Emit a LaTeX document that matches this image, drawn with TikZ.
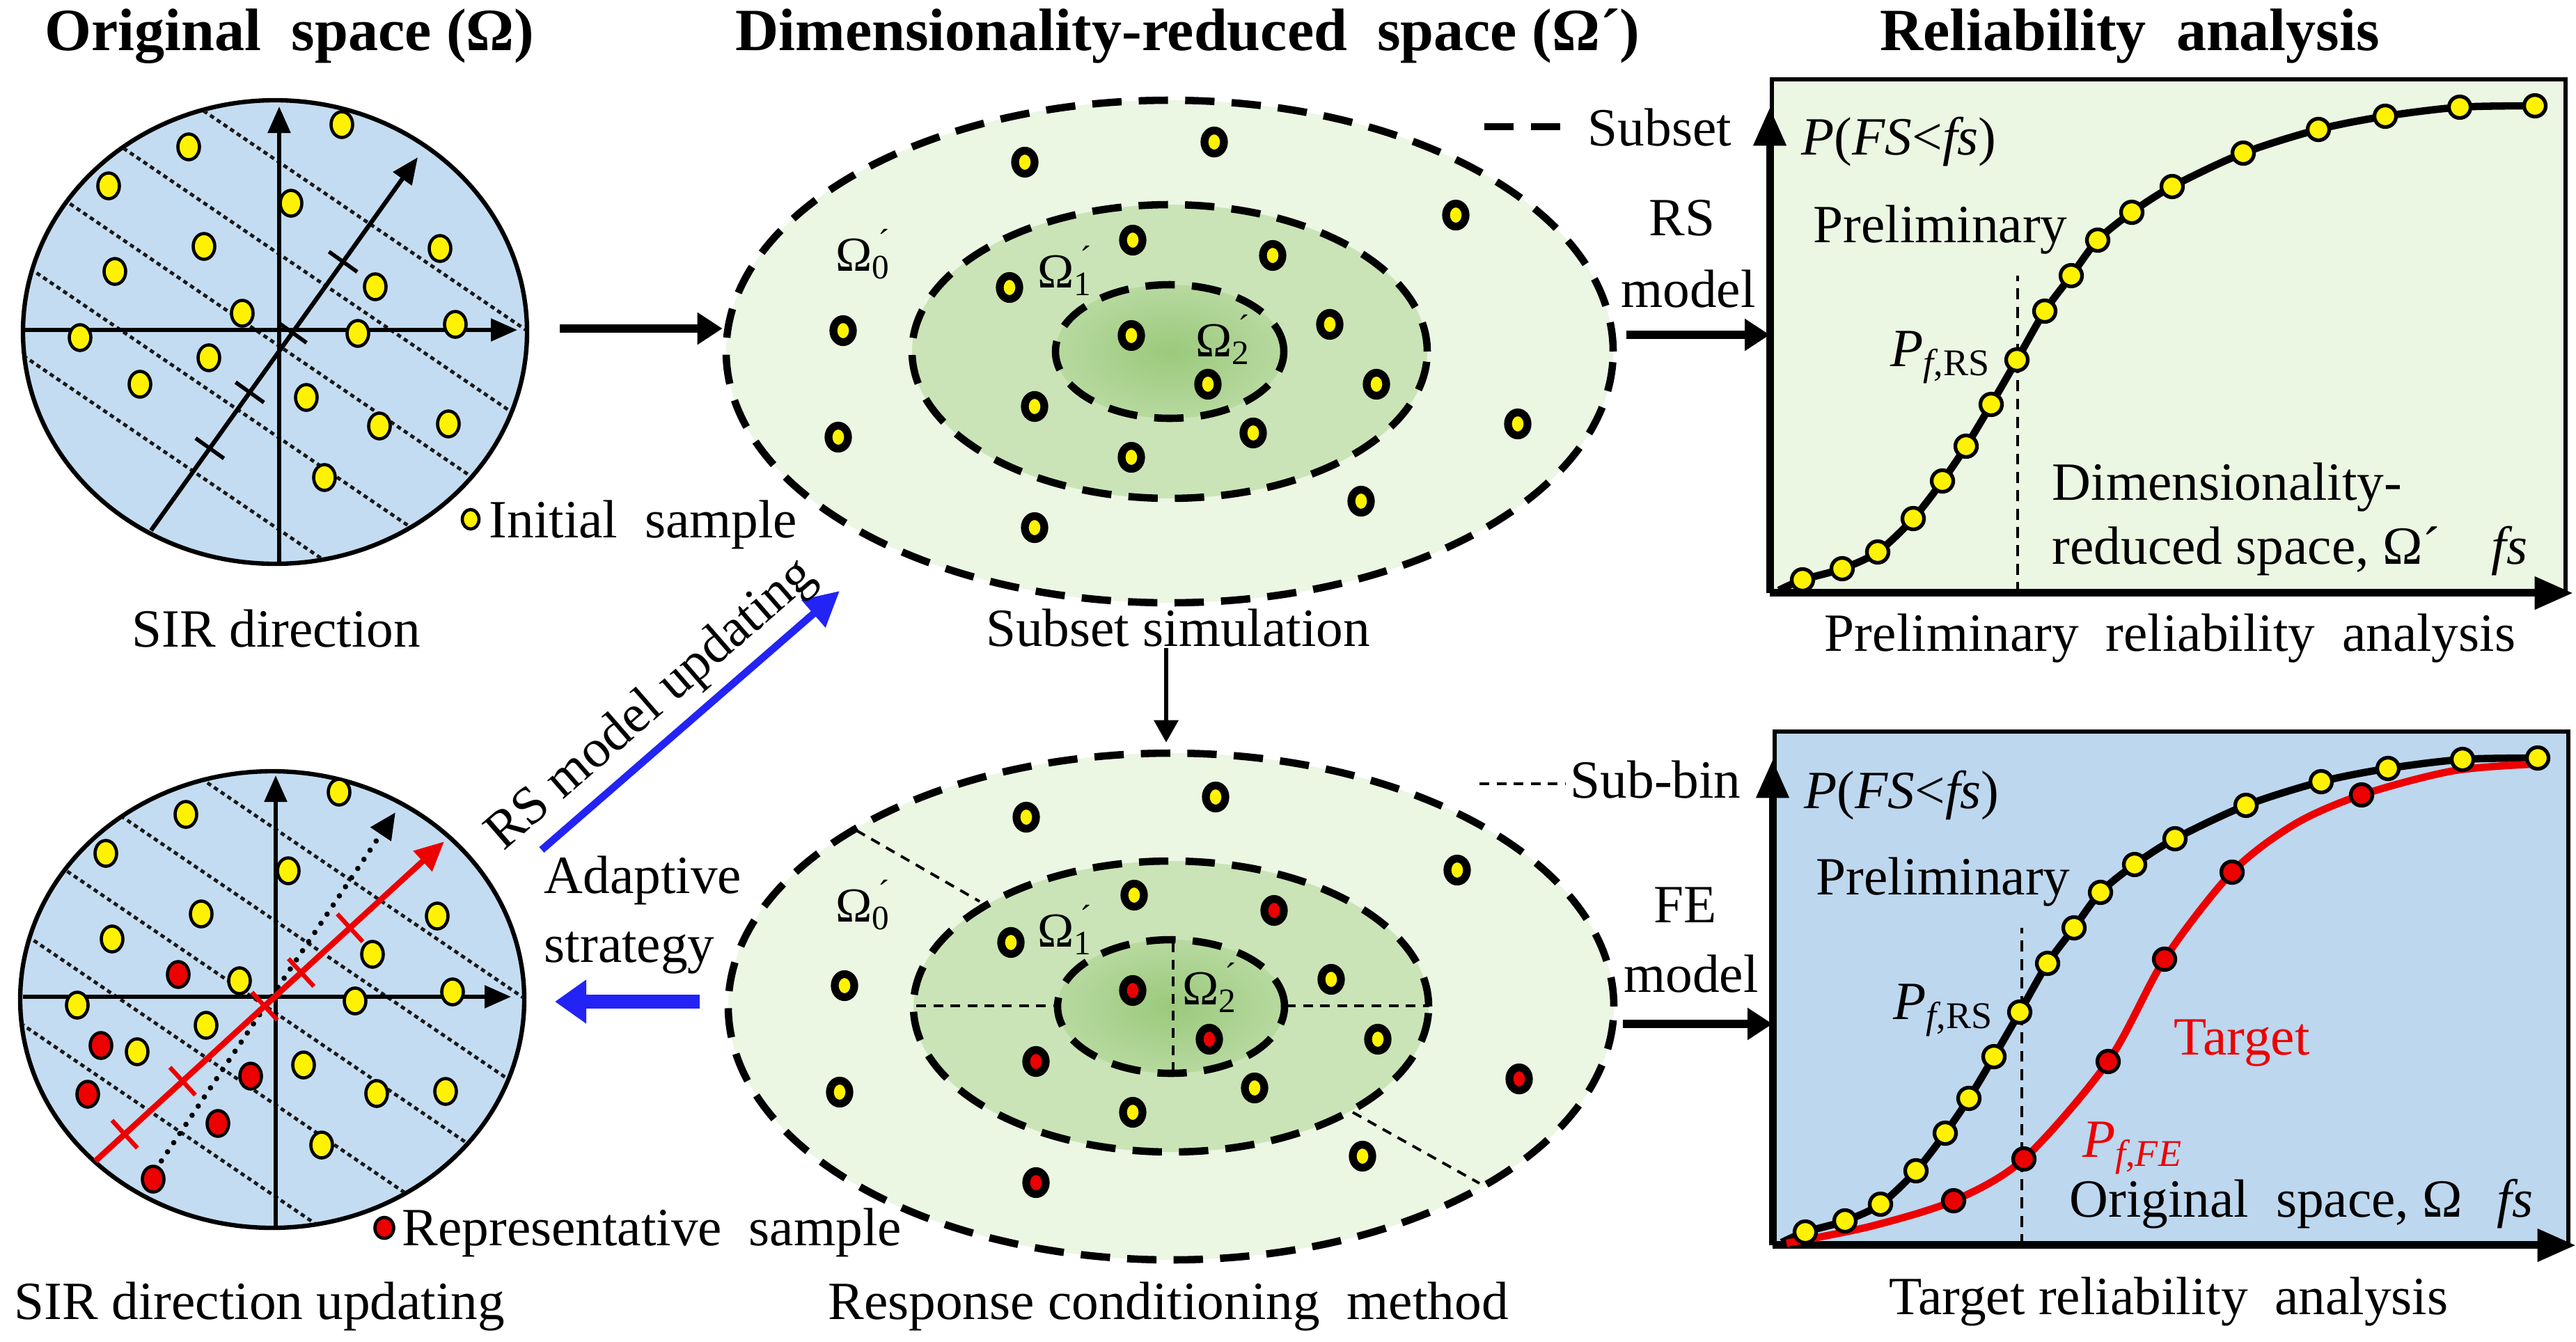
\documentclass[tikz,border=0pt]{standalone}
\usepackage{fontspec}
\setmainfont{Liberation Serif}
\usetikzlibrary{arrows.meta,positioning,shapes.geometric,calc}

\definecolor{spaceblue}{RGB}{196,220,241}
\definecolor{plotblue}{RGB}{189,215,238}
\definecolor{palegreen}{RGB}{235,246,227}
\definecolor{midgreen}{RGB}{202,228,183}
\definecolor{deepgreen}{RGB}{155,201,124}
\definecolor{arrowblue}{RGB}{35,35,245}
\definecolor{dotred}{RGB}{236,0,0}

% sample points, relative to the centre of each space / the corner of each plot
\def\origpts{0.96/2.98,-1.24/2.66,-2.39/2.10,0.23/1.85,-1.02/1.23,2.37/1.20,-2.30/0.87,1.44/0.65,-0.47/0.27,-2.80/-0.08,1.19/-0.02,2.59/0.11,-0.95/-0.37,-1.94/-0.75,0.45/-0.94,1.50/-1.35,2.49/-1.32,0.71/-2.09}
\def\reppts{-1.35/0.36,-2.46/-0.66,-0.31/-1.10,-2.65/-1.36,-0.78/-1.78,-1.71/-2.58}
\def\subpts{-2.08/2.72/yellow,0.64/3.01/yellow,4.11/1.96/yellow,-0.53/1.60/yellow,1.48/1.38/dotred,-2.30/0.92/yellow,-4.69/0.30/yellow,-0.55/0.23/dotred,2.30/0.39/yellow,0.55/-0.47/dotred,2.97/-0.47/yellow,-1.94/-0.79/dotred,1.20/-1.17/yellow,-4.76/-1.23/yellow,5.00/-1.04/dotred,-0.55/-1.52/yellow,2.75/-2.15/yellow,-1.94/-2.53/dotred}
\def\cdfpts{0.47/0.19,1.04/0.35,1.55/0.59,2.06/1.07,2.48/1.61,2.82/2.11,3.18/2.71,3.55/3.35,3.95/4.05,4.33/4.56,4.71/5.07,5.20/5.47,5.78/5.84,6.80/6.32,7.88/6.66,8.84/6.85,9.91/6.98,10.99/7.00}

\begin{document}
\begin{tikzpicture}[
  txt/.style={font=\fontsize{22}{26}\selectfont,inner sep=0pt},
  ttl/.style={font=\fontsize{24.5}{29}\selectfont\bfseries,inner sep=0pt},
  omg/.style={font=\fontsize{20}{24}\selectfont,inner sep=0pt},
  odot/.style={ellipse,draw,line width=1.3pt,fill=yellow,minimum width=0.31cm,minimum height=0.37cm,inner sep=0pt},
  edot/.style={ellipse,draw,line width=3.2pt,fill=yellow,minimum width=0.28cm,minimum height=0.33cm,inner sep=0pt},
  cdot/.style={circle,draw,line width=1.5pt,fill=yellow,minimum size=0.31cm,inner sep=0pt},
  gridline/.style={line width=1.4pt,dash pattern=on 1.8pt off 1.5pt,black!90},
  axis/.style={line width=1.6pt,-{Triangle[length=0.38cm,width=0.32cm]}},
  fatarrow/.style={line width=3.2pt,-{Triangle[length=0.36cm,width=0.44cm]}},
  plotaxis/.style={line width=3pt,-{Triangle[length=0.55cm,width=0.45cm]}},
  subline/.style={line width=3pt,dash pattern=on 12pt off 7pt},
  binline/.style={line width=1.1pt,dash pattern=on 4pt off 3pt},
  pfline/.style={line width=1.1pt,dash pattern=on 4.5pt off 3pt}
]
\useasboundingbox (0,0) rectangle (37,-19.28);

% titles
\node[ttl,anchor=base] (ttlA) at (4.16,-0.72) {Original~ space (Ω)};
\node[ttl,anchor=base] (ttlB) at (17.06,-0.72) {Dimensionality-reduced~ space (Ω´)};
\node[ttl,anchor=base] (ttlC) at (30.59,-0.72) {Reliability~ analysis};

% original space, initial samples
\node[ellipse,draw,line width=1.8pt,fill=spaceblue,minimum width=7.24cm,minimum height=6.66cm,inner sep=0pt] (origA) at (3.95,-4.77) {};
\begin{scope}[shift={(origA.center)}]
  \begin{scope}
    \clip (0,0) ellipse (3.6 and 3.31);
    \foreach \o in {2.48,1.16,-0.16,-1.48,-2.80}
      \draw[gridline] (-4,{\o+2.72}) -- (4,{\o-2.72});
  \end{scope}
  \draw[axis] (-3.62,0.03) -- (3.48,0.03);
  \draw[axis] (0.06,-3.33) -- (0.06,3.24);
  \coordinate (sirA0) at (-1.78,-2.85);
  \coordinate (sirA1) at (2.05,2.51);
  \draw[axis,line width=1.8pt] (sirA0) -- (sirA1);
  \foreach \t in {0.22,0.37,0.53,0.72}
    \draw[line width=1.6pt] ($(sirA0)!\t!(sirA1)!0.25cm!90:(sirA1)$) -- ($(sirA0)!\t!(sirA1)!0.25cm!-90:(sirA1)$);
  \foreach \x/\y [count=\i] in \origpts
    \node[odot] (oA\i) at (\x,\y) {};
\end{scope}
\node[odot,minimum width=0.24cm,minimum height=0.28cm] (legA) at (6.76,-7.46) {};
\node[txt,anchor=base west] (legAt) at (7.02,-7.72) {Initial~ sample};
\node[txt,anchor=base] (capA) at (3.97,-9.29) {SIR direction};

% original space, updated direction
\node[ellipse,draw,line width=1.8pt,fill=spaceblue,minimum width=7.24cm,minimum height=6.56cm,inner sep=0pt] (origB) at (3.91,-14.36) {};
\begin{scope}[shift={(origB.center)}]
  \begin{scope}
    \clip (0,0) ellipse (3.6 and 3.26);
    \foreach \o in {2.48,1.16,-0.16,-1.48,-2.80}
      \draw[gridline] (-4,{\o+2.72}) -- (4,{\o-2.72});
  \end{scope}
  \draw[axis] (-3.58,0.04) -- (3.43,0.04);
  \draw[axis] (0.05,-3.28) -- (0.05,3.22);
  \coordinate (sirB0) at (-1.68,-2.45);
  \coordinate (sirB1) at (1.77,2.69);
  \draw[line width=2.2pt,line cap=round,dash pattern=on 0pt off 4.5pt,-{Triangle[length=0.38cm,width=0.34cm]}] (sirB0) -- (sirB1);
  \coordinate (sirC0) at (-2.54,-2.32);
  \coordinate (sirC1) at (2.47,2.27);
  \draw[dotred,line width=2.4pt,-{Triangle[length=0.42cm,width=0.38cm]}] (sirC0) -- (sirC1);
  \foreach \t in {0.084,0.25,0.485,0.59,0.73}
    \draw[dotred,line width=1.8pt] ($(sirC0)!\t!(sirC1)!0.27cm!90:(sirC1)$) -- ($(sirC0)!\t!(sirC1)!0.27cm!-90:(sirC1)$);
  \foreach \x/\y [count=\i] in \origpts
    \node[odot] (oB\i) at (\x,\y) {};
  \foreach \x/\y [count=\i] in \reppts
    \node[odot,fill=dotred] (rB\i) at (\x,\y) {};
\end{scope}
\node[odot,fill=dotred,minimum width=0.27cm,minimum height=0.3cm] (legB) at (5.52,-17.64) {};
\node[txt,anchor=base west] (legBt) at (5.77,-17.89) {Representative~ sample};
\node[txt,anchor=base] (capB) at (3.73,-18.95) {SIR direction updating};

% dimensionality-reduced space, subset simulation
\node[ellipse,draw,subline,fill=palegreen,minimum width=12.74cm,minimum height=7.22cm,inner sep=0pt] (subA) at (16.80,-5.05) {};
\node[ellipse,draw,subline,fill=midgreen,minimum width=7.4cm,minimum height=4.22cm,inner sep=0pt] (subA1) at (subA.center) {};
\node[ellipse,draw,subline,inner color=deepgreen,outer color=midgreen!60!deepgreen,minimum width=3.28cm,minimum height=1.92cm,inner sep=0pt] (subA2) at (subA.center) {};
\begin{scope}[shift={(subA.center)}]
  \foreach \x/\y/\col [count=\i] in \subpts
    \node[edot] (eA\i) at (\x,\y) {};
  \node[omg] (omA0) at (-4.40,1.40) {Ω\textsubscript{0}\llap{\textsuperscript{´}}};
  \node[omg] (omA1) at (-1.50,1.16) {Ω\textsubscript{1}\llap{\textsuperscript{´}}};
  \node[omg] (omA2) at (0.77,0.17) {Ω\textsubscript{2}\llap{\textsuperscript{´}}};
\end{scope}
\node[txt,anchor=base] (capC) at (16.92,-9.28) {Subset simulation};
\draw[subline] (21.32,-1.82) -- (22.45,-1.82);
\node[txt,anchor=base west] (legC) at (22.80,-2.09) {Subset};

% dimensionality-reduced space, response conditioning
\node[ellipse,draw,subline,fill=palegreen,minimum width=12.72cm,minimum height=7.28cm,inner sep=0pt] (subB) at (16.82,-14.46) {};
\node[ellipse,draw,subline,fill=midgreen,minimum width=7.4cm,minimum height=4.18cm,inner sep=0pt] (subB1) at (subB.center) {};
\node[ellipse,draw,subline,inner color=deepgreen,outer color=midgreen!60!deepgreen,minimum width=3.26cm,minimum height=1.92cm,inner sep=0pt] (subB2) at (subB.center) {};
\begin{scope}[shift={(subB.center)}]
  \draw[binline] (-4.52,2.53) -- (-2.75,1.51);
  \draw[binline] (-3.66,0.01) -- (-1.60,0.01);
  \draw[binline] (1.65,0.01) -- (3.71,0.01);
  \draw[binline] (0.03,0.92) -- (0.03,-0.94);
  \draw[binline] (2.61,-1.52) -- (4.43,-2.54);
  \foreach \x/\y/\col [count=\i] in \subpts
    \node[edot,fill=\col] (eB\i) at (\x,\y) {};
  \node[omg] (omB0) at (-4.42,1.46) {Ω\textsubscript{0}\llap{\textsuperscript{´}}};
  \node[omg] (omB1) at (-1.52,1.10) {Ω\textsubscript{1}\llap{\textsuperscript{´}}};
  \node[omg] (omB2) at (0.56,0.27) {Ω\textsubscript{2}\llap{\textsuperscript{´}}};
\end{scope}
\node[txt,anchor=base] (capD) at (16.78,-18.95) {Response conditioning~ method};
\draw[binline] (21.25,-11.26) -- (22.49,-11.26);
\node[txt,anchor=base west] (legD) at (22.55,-11.46) {Sub-bin};

% preliminary reliability analysis
\begin{scope}[shift={(25.42,-8.52)}]
  \node[draw,line width=1.6pt,fill=palegreen,minimum width=11.4cm,minimum height=7.35cm,anchor=south west,inner sep=0pt] (boxA) at (0,0) {};
  \draw[plotaxis] (boxA.south west) -- ([yshift=-4.3mm]boxA.north west);
  \draw[plotaxis] (boxA.south west) -- ([xshift=0.8mm]boxA.south east);
  \draw[pfline] (3.56,0) -- (3.56,4.56);
  \draw[line width=3pt] plot[smooth] coordinates {(0.13,0.04) (0.47,0.19) (1.04,0.35) (1.55,0.59) (2.06,1.07) (2.48,1.61) (2.82,2.11) (3.18,2.71) (3.55,3.35) (3.95,4.05) (4.33,4.56) (4.71,5.07) (5.20,5.47) (5.78,5.84) (6.80,6.32) (7.88,6.66) (8.84,6.85) (9.91,6.98) (10.99,7.00)};
  \foreach \x/\y [count=\i] in \cdfpts
    \node[cdot] (cA\i) at (\x,\y) {};
  \node[txt,anchor=base west] (pfsA) at (0.45,6.30) {\textit{P}(\textit{FS}<\textit{fs})};
  \node[txt,anchor=base] (preA) at (2.45,5.04) {Preliminary};
  \node[txt,anchor=base east] (pfA) at (3.18,3.26) {\textit{P}\textsubscript{\textit{f},RS}};
  \node[txt,anchor=base west] (dimA) at (4.05,1.34) {Dimensionality-};
  \node[txt,anchor=base west] (redA) at (4.05,0.42) {reduced space, Ω´};
  \node[txt,anchor=base east] (fsA) at (10.89,0.42) {\textit{fs}};
\end{scope}
\node[txt,anchor=base] (capE) at (31.17,-9.35) {Preliminary~ reliability~ analysis};

% target reliability analysis
\begin{scope}[shift={(25.46,-17.89)}]
  \node[draw,line width=1.6pt,fill=plotblue,minimum width=11.4cm,minimum height=7.35cm,anchor=south west,inner sep=0pt] (boxB) at (0,0) {};
  \draw[plotaxis] (boxB.south west) -- ([yshift=-4.3mm]boxB.north west);
  \draw[plotaxis] (boxB.south west) -- ([xshift=0.8mm]boxB.south east);
  \draw[pfline] (3.58,0) -- (3.58,4.56);
  \draw[line width=3pt] plot[smooth] coordinates {(0.13,0.04) (0.47,0.19) (1.04,0.35) (1.55,0.59) (2.06,1.07) (2.48,1.61) (2.82,2.11) (3.18,2.71) (3.55,3.35) (3.95,4.05) (4.33,4.56) (4.71,5.07) (5.20,5.47) (5.78,5.84) (6.80,6.32) (7.88,6.66) (8.84,6.85) (9.91,6.98) (10.99,7.00)};
  \draw[dotred,line width=3pt] plot[smooth] coordinates {(0.2,0.03) (1.4,0.27) (2.60,0.64) (3.61,1.24) (4.82,2.64) (5.63,4.11) (6.60,5.36) (7.5,6.05) (8.46,6.47) (9.8,6.82) (11.1,6.92)};
  \foreach \x/\y [count=\i] in \cdfpts
    \node[cdot] (cB\i) at (\x,\y) {};
  \foreach \x/\y [count=\i] in {2.60/0.64,3.61/1.24,4.82/2.64,5.63/4.11,6.60/5.36,8.46/6.47}
    \node[cdot,fill=dotred] (tB\i) at (\x,\y) {};
  \node[txt,anchor=base west] (pfsB) at (0.45,6.28) {\textit{P}(\textit{FS}<\textit{fs})};
  \node[txt,anchor=base] (preB) at (2.45,5.04) {Preliminary};
  \node[txt,anchor=base east] (pfB) at (3.18,3.25) {\textit{P}\textsubscript{\textit{f},RS}};
  \node[txt,anchor=base,text=dotred] (tgtB) at (6.74,2.74) {Target};
  \node[txt,anchor=base,text=dotred] (pfeB) at (5.17,1.27) {\textit{P}\textsubscript{\textit{f},\textit{FE}}};
  \node[txt,anchor=base west] (origt) at (4.26,0.41) {Original~ space, Ω};
  \node[txt,anchor=base east] (fsB) at (10.93,0.41) {\textit{fs}};
\end{scope}
\node[txt,anchor=base] (capF) at (31.15,-18.88) {Target reliability~ analysis};

% flow between the panels
\coordinate (toSub) at (8.04,-4.72);
\draw[fatarrow] (toSub) -- (toSub -| subA.west);
\coordinate (toRcm) at (16.75,-9.31);
\draw[line width=1.8pt,-{Triangle[length=0.32cm,width=0.34cm]}] (toRcm) -- ([yshift=1mm]toRcm |- subB.north);
\coordinate (toBoxA) at (23.36,-4.81);
\draw[fatarrow] (toBoxA) -- (toBoxA -| boxA.west);
\node[txt,anchor=base] (rsA) at (24.16,-3.38) {RS};
\node[txt,anchor=base] (rsB) at (24.25,-4.41) {model};
\coordinate (toBoxB) at (23.31,-14.71);
\draw[fatarrow] (toBoxB) -- (toBoxB -| boxB.west);
\node[txt,anchor=base] (feA) at (24.21,-13.25) {FE};
\node[txt,anchor=base] (feB) at (24.29,-14.25) {model};

\coordinate (upd0) at (7.78,-12.21);
\coordinate (upd1) at (12.06,-8.49);
\draw[arrowblue,line width=3pt,-{Triangle[length=0.5cm,width=0.5cm]}] (upd0) -- node[txt,text=black,sloped,above=1.2mm,pos=0.45] (updt) {RS model updating} (upd1);
\coordinate (adp0) at (10.05,-14.39);
\coordinate (adp1) at (7.97,-14.39);
\draw[arrowblue,line width=5.5pt,-{Triangle[length=0.45cm,width=0.6cm]}] (adp0) -- (adp1);
\node[txt,anchor=base west] (adpA) at (7.81,-12.83) {Adaptive};
\node[txt,anchor=base west] (adpB) at (7.81,-13.82) {strategy};
\end{tikzpicture}
\end{document}
